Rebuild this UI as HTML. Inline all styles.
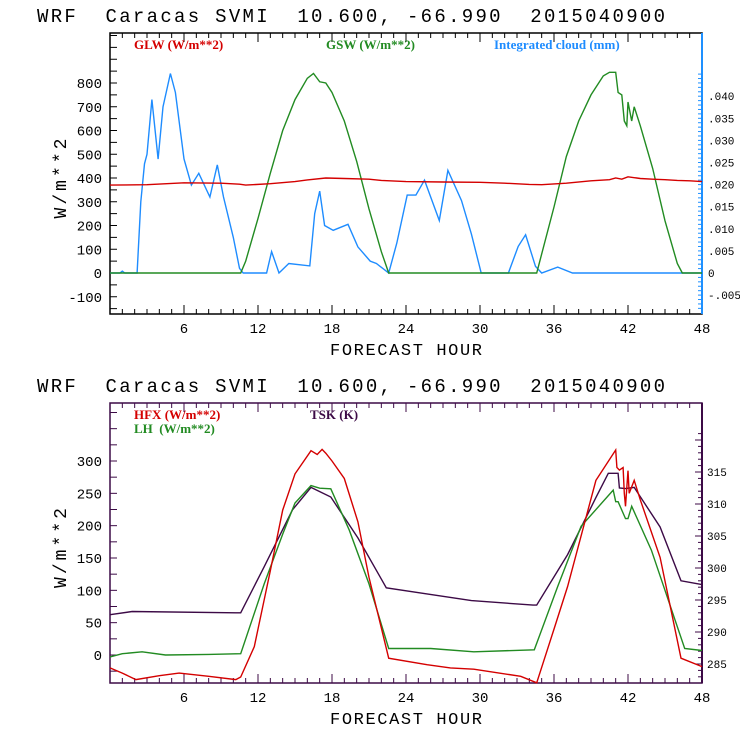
<!DOCTYPE html>
<html><head><meta charset="utf-8"><style>
html,body{margin:0;padding:0;background:#fff;width:740px;height:740px;overflow:hidden}
svg text{font-family:"Liberation Mono",monospace;white-space:pre}
.t{font-size:19px}
.tk{font-size:14px}
.lg{font-family:"Liberation Serif",serif!important;font-weight:bold;font-size:13px}
.rt{font-size:11px}
</style></head><body>
<svg id="c" width="740" height="740" xmlns="http://www.w3.org/2000/svg"></svg>
<script>
// ---- top panel data ----
const glwHours=[0,3,6,9,10.5,11,13,15,16,17.5,19,21,22,24,27,30,32,34,35,37,39,40.5,41,41.5,42,43,44,45,46,47,48];
const glwVals=[370,372,380,378,374,370,376,385,392,400,398,395,390,385,383,382,378,373,372,378,388,393,400,395,405,398,395,393,390,388,385];
const gswHours=[0,10.6,11,12,13,14,15,16,16.5,17,17.5,18,19,20,21,22,22.6,34.6,36,37,38,39,40,40.5,41,41.2,41.5,41.7,41.9,42,42.3,42.5,43,44,45,46,46.4,48];
const gswVals=[0,0,50,230,420,600,730,820,840,805,800,760,640,470,270,90,0,0,278,490,640,750,830,845,845,760,750,640,620,720,640,700,620,440,220,40,0,0];
const cldHours=[0,0.8,1,1.2,2.2,2.5,2.8,3.0,3.4,3.9,4.3,4.9,5.3,6.0,6.6,7.2,8.1,8.7,9.2,10.0,10.5,10.8,12.7,13.1,13.7,14.5,16.2,16.6,17.0,17.4,18.1,19.3,20.1,21.1,21.6,22.6,23.25,24.1,24.8,25.5,26.7,27.4,28.5,29.3,30.1,32.3,33.1,33.7,34.5,35.0,36.3,37.5,48];
const cldVals=[0,0,8,0,0,300,460,500,730,480,700,840,760,480,370,420,320,455,320,150,20,0,0,90,0,40,30,250,345,200,180,205,110,50,40,0,126,328,328,391,221,432,305,164,0,0,112,161,28,0,25,0,0];
const topYTicks=[-100,0,100,200,300,400,500,600,700,800];
const topRightTicks=['-.005','0','.005','.010','.015','.020','.025','.030','.035','.040'];
const xTickLabels=[6,12,18,24,30,36,42,48];
// ---- bottom panel data ----
const hfxHours=[0,1,2.1,4,5.6,8,10.2,10.6,11.7,13,14,15,16.3,16.8,17.2,17.5,18,19,20.1,21,22.6,25.7,27.6,29.5,33.3,34.6,36,37.1,39.4,41,41.1,41.3,41.6,41.7,41.8,42,42.1,42.5,43,44.6,46.3,48];
const hfxVals=[-20,-28,-38,-32,-28,-33,-38,-34,13,130,224,280,316,310,318,312,300,273,206,120,-5,-15,-20,-22,-33,-43,40,106,270,317,290,286,290,250,230,285,250,270,240,151,-5,-18];
const lhHours=[0,1,2.6,4.5,8,10.6,12.5,14,15,16.3,17,17.9,19.4,21,22.6,26,29.5,34.4,36.3,38.2,40.8,41,41.2,41.8,42,42.3,43.9,46.6,48];
const lhVals=[-3,2,5,0,1,2,110,187,235,262,258,257,193,110,10,10,5,8,106,199,255,237,237,211,211,230,162,10,7];
const tskHours=[0,1.8,10.2,10.6,12.5,14.8,16.3,17.9,20.1,22.4,25.5,29.3,34.3,34.6,37.1,39.4,40.4,41.2,41.3,41.8,42.5,44.6,46.3,48];
const tskVals=[292.7,293.2,293.0,293.0,300.2,309.1,312.6,311.1,304.7,296.9,296.0,294.9,294.2,294.2,302.1,311.0,314.8,314.8,312.5,312.4,312.6,306.4,298.0,297.4];
const botYTicks=[0,50,100,150,200,250,300];
const botRightTicks=[285,290,295,300,305,310,315];

const NS='http://www.w3.org/2000/svg';
const svg=document.getElementById('c');
function mk(tag,attrs,parent){const e=document.createElementNS(NS,tag);for(const k in attrs)e.setAttribute(k,attrs[k]);(parent||svg).appendChild(e);return e;}
const X0=110,X1=702;
const xs=h=>X0+(X1-X0)*h/48;
const yTop=v=>273-(v*190/800);
const yTopR=v=>273-(v/0.005)*22.1;
const yBot=v=>655-v*194/300;
const yBotR=k=>664-(k-285)*6.4;

function title(y){
  const t=mk('text',{x:37,y:y,class:'t',fill:'#000',textLength:628,lengthAdjust:'spacing'});
  
  
  t.textContent='WRF  Caracas SVMI  10.600, -66.990  2015040900';
}
function frame(top,bot,color,rcolor,yfn,yticks,minorStep,ymin,ymax){
  const g=mk('g',{});
  
  
  mk('rect',{x:X0,y:top,width:X1-X0,height:bot-top,fill:'none',stroke:color,'stroke-width':1.5},g);
  mk('line',{x1:X1,y1:top,x2:X1,y2:bot,stroke:rcolor,'stroke-width':2},g);
  for(let h=1;h<48;h++){
    const L=h%6==0?9:5;
    mk('line',{x1:xs(h),y1:bot,x2:xs(h),y2:bot-L,stroke:color},g);
    mk('line',{x1:xs(h),y1:top,x2:xs(h),y2:top+L,stroke:color},g);
  }
  for(let v=Math.ceil(ymin/minorStep)*minorStep;v<=ymax;v+=minorStep){
    const y=yfn(v); if(y<top||y>bot)continue;
    mk('line',{x1:X0,y1:y,x2:X0+7,y2:y,stroke:color},g);
  }
  yticks.forEach(v=>{
    const t=mk('text',{x:X0-8,y:yfn(v)+5,class:'tk','text-anchor':'end',fill:'#000'},g);
    
    
    t.textContent=v;
  });
  xTickLabels.forEach(h=>{
    const t=mk('text',{x:xs(h),y:bot+19,class:'tk','text-anchor':'middle',fill:'#000'},g);
    
    
    t.textContent=h;
  });
  const xt=mk('text',{x:330,y:bot+41,class:'t',fill:'#000',style:'font-size:17px',textLength:152,lengthAdjust:'spacing'},g);
  
  
  xt.textContent='FORECAST HOUR';
  const yt=mk('text',{x:-40,y:0,class:'t',fill:'#000',transform:`translate(66,${(top+bot)/2+5}) rotate(-90)`,style:'font-size:18px',textLength:80,lengthAdjust:'spacing'},g);
  
  
  yt.textContent='W/m**2';
}
function series(hs,vs,yfn,color,name){
  const pts=hs.map((h,i)=>xs(h).toFixed(1)+','+yfn(vs[i]).toFixed(1)).join(' ');
  const p=mk('polyline',{points:pts,fill:'none',stroke:color,'stroke-width':1.4});
  
  
}
function legend(x,y,color,txt){
  const t=mk('text',{x:x,y:y,class:'lg',fill:color});
  
  
  t.textContent=txt;
}

// top panel
title(22);
frame(33,314,'#000','#1e90ff',yTop,topYTicks,50,-200,1100);
for(let v=-0.008;v<=0.046;v+=0.001){const y=yTopR(v);if(y<33||y>314)continue;
  mk('line',{x1:X1-4,y1:y,x2:X1,y2:y,stroke:'#1e90ff'});}
topRightTicks.forEach((s,i)=>{
  const t=mk('text',{x:708,y:yTopR(-0.005+0.005*i)+4,class:'rt',fill:'#000'});
  
  
  t.textContent=s;
});
series(cldHours,cldVals,yTop,'#1e8cff','cloud-line');
series(gswHours,gswVals,yTop,'#228b22','gsw-line');
series(glwHours,glwVals,yTop,'#d40000','glw-line');
legend(134,49,'#d40000','GLW (W/m**2)');
legend(326,49,'#228b22','GSW (W/m**2)');
legend(494,49,'#1e8cff','Integrated cloud (mm)');

// bottom panel
title(392);
frame(403,683,'#3c0a46','#3c0a46',yBot,botYTicks,25,-50,400);
for(let k=283;k<=321;k++){const y=yBotR(k);if(y<403||y>683)continue;
  mk('line',{x1:X1-(k%5==0?7:4),y1:y,x2:X1,y2:y,stroke:'#3c0a46'});}
botRightTicks.forEach(k=>{
  const t=mk('text',{x:707,y:yBotR(k)+4,class:'rt',fill:'#000'});
  
  
  t.textContent=k;
});
series(tskHours,tskVals,yBotR,'#3c0a46','tsk-line');
series(lhHours,lhVals,yBot,'#228b22','lh-line');
series(hfxHours,hfxVals,yBot,'#d40000','hfx-line');
legend(134,419,'#d40000','HFX (W/m**2)');
legend(134,433,'#228b22','LH  (W/m**2)');
legend(310,419,'#3c0a46','TSK (K)');
</script>
</body></html>
